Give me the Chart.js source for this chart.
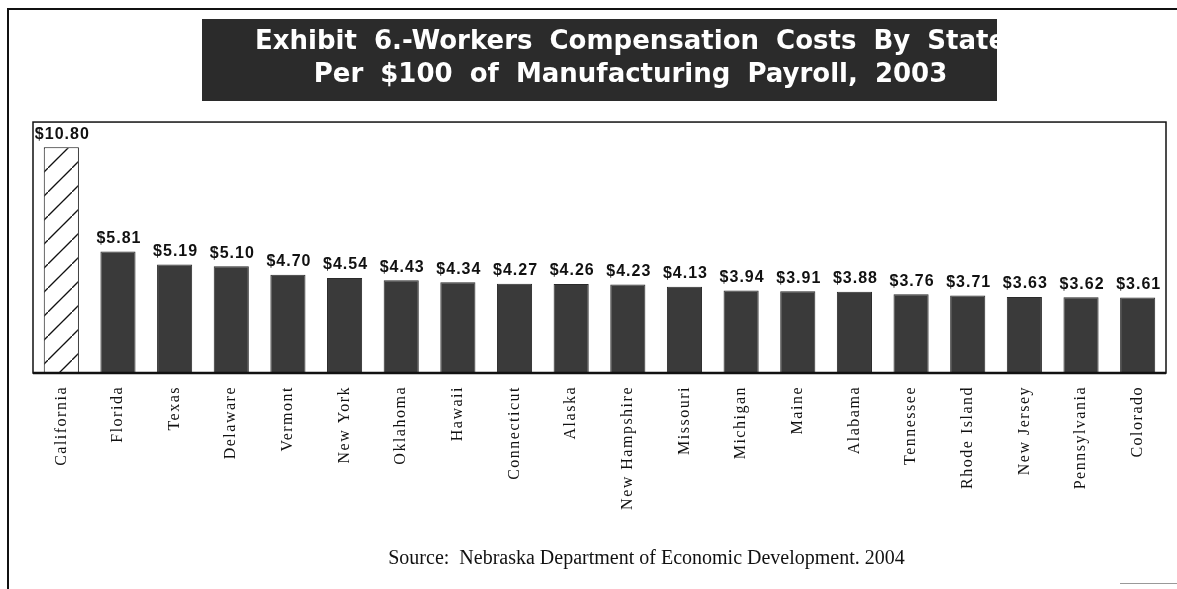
<!DOCTYPE html>
<html>
<head>
<meta charset="utf-8">
<title>Workers Compensation Costs By State, 2003</title>
<script src="https://cdn.jsdelivr.net/npm/chart.js@4.4.1/dist/chart.umd.min.js"></script>
<style>
    html, body { margin: 0; padding: 0; background: #fff; }
    #wrap { width: 1177px; height: 589px; }
</style>
</head>
<body>
<div id="wrap"><canvas id="chart" width="1177" height="589"></canvas></div>
<script>
(function () {
    'use strict';

    /* ------------------------------------------------------------------
       Dati
    ------------------------------------------------------------------ */
    var states = ['California', 'Florida', 'Texas', 'Delaware', 'Vermont', 'New York',
        'Oklahoma', 'Hawaii', 'Connecticut', 'Alaska', 'New Hampshire', 'Missouri',
        'Michigan', 'Maine', 'Alabama', 'Tennessee', 'Rhode Island', 'New Jersey',
        'Pennsylvania', 'Colorado'];
    var costs = [10.80, 5.81, 5.19, 5.10, 4.70, 4.54, 4.43, 4.34, 4.27, 4.26,
        4.23, 4.13, 3.94, 3.91, 3.88, 3.76, 3.71, 3.63, 3.62, 3.61];
    var titleLines = ['Exhibit 6.-Workers Compensation Costs By State',
        'Per $100 of Manufacturing Payroll, 2003'];
    var sourceText = 'Source:  Nebraska Department of Economic Development. 2004';
    var yMax = 12;

    var INK = '#111';
    var BAR_DARK = '#3a3a3a';

    // tratteggio per la barra California
    function hatchPattern() {
        var c = document.createElement('canvas');
        c.width = 24; c.height = 24;
        var g = c.getContext('2d');
        g.fillStyle = '#fff';
        g.fillRect(0, 0, 24, 24);
        g.strokeStyle = INK;
        g.lineWidth = 1.3;
        g.beginPath();
        g.moveTo(-2, 26); g.lineTo(26, -2);
        g.stroke();
        return g.createPattern(c, 'repeat');
    }
    var hatch = hatchPattern();

    /* ------------------------------------------------------------------
       Plugin: cornice, box titolo, etichette valori
    ------------------------------------------------------------------ */
    var paperPlugin = {
        id: 'paper',
        afterLayout: function (chart) {
            var t = chart.titleBlock;
            if (t) {
                t.left += 31; t.right += 31;
                // parole del titolo più distanziate
                if (!t._spaced) {
                    var origDraw = t.draw;
                    t.draw = function () {
                        chart.ctx.wordSpacing = '8px';
                        origDraw.apply(this, arguments);
                        chart.ctx.wordSpacing = '0px';
                    };
                    t._spaced = true;
                }
            }
            chart.boxes.forEach(function (b) {
                if (b !== t && b.options && b.options.text === sourceText) {
                    b.left += 47; b.right += 47;
                }
            });
        },
        beforeDraw: function (chart) {
            var ctx = chart.ctx;
            ctx.save();
            ctx.fillStyle = '#fff';
            ctx.fillRect(0, 0, chart.width, chart.height);
            // cornice esterna
            ctx.strokeStyle = INK;
            ctx.lineWidth = 2;
            ctx.beginPath();
            ctx.moveTo(8, 589); ctx.lineTo(8, 9); ctx.lineTo(1177, 9);
            ctx.stroke();
            ctx.strokeStyle = '#999';
            ctx.lineWidth = 1;
            ctx.beginPath();
            ctx.moveTo(1120, 583.5); ctx.lineTo(1177, 583.5);
            ctx.stroke();
            // box titolo
            ctx.fillStyle = '#2b2b2b';
            ctx.fillRect(202, 19, 795, 82);
            ctx.restore();
        },
        afterDatasetsDraw: function (chart) {
            var ctx = chart.ctx;
            var a = chart.chartArea;
            ctx.save();
            ctx.strokeStyle = INK;
            ctx.lineWidth = 1.5;
            ctx.strokeRect(a.left, a.top, a.right - a.left, a.bottom - a.top);
            ctx.lineWidth = 2.5;
            ctx.beginPath();
            ctx.moveTo(a.left, a.bottom); ctx.lineTo(a.right, a.bottom);
            ctx.stroke();

            ctx.font = 'bold 16px "Liberation Sans", Arial, sans-serif';
            ctx.letterSpacing = '1px';
            ctx.fillStyle = INK;
            ctx.textAlign = 'center';
            ctx.textBaseline = 'bottom';
            var meta = chart.getDatasetMeta(0);
            meta.data.forEach(function (bar, i) {
                ctx.fillText('$' + costs[i].toFixed(2), bar.x + 1, bar.y - 5);
            });
            ctx.restore();
            // spaziatura per le etichette ruotate (disegnate dopo, ticks.z = 1)
            ctx.letterSpacing = '1.5px';
        },
        afterDraw: function (chart) {
            chart.ctx.letterSpacing = '0px';
        }
    };

    /* ------------------------------------------------------------------
       Chart.js
    ------------------------------------------------------------------ */
    new Chart(document.getElementById('chart').getContext('2d'), {
        type: 'bar',
        data: {
            labels: states,
            datasets: [{
                data: costs,
                backgroundColor: states.map(function (s, i) { return i === 0 ? hatch : BAR_DARK; }),
                borderColor: states.map(function (s, i) { return i === 0 ? INK : '#2a2a2a'; }),
                borderWidth: 1,
                barPercentage: 0.62,
                categoryPercentage: 1
            }]
        },
        options: {
            responsive: false,
            animation: false,
            events: [],
            layout: { padding: { top: 26, bottom: 19, left: 33, right: 11 } },
            plugins: {
                legend: { display: false },
                tooltip: { enabled: false },
                title: {
                    display: true,
                    text: titleLines,
                    color: '#fff',
                    font: { family: '"DejaVu Sans", Verdana, sans-serif', size: 26, weight: 'bold', lineHeight: 1.27 },
                    padding: { top: 0, bottom: 30 }
                },
                subtitle: {
                    display: true,
                    position: 'bottom',
                    text: sourceText,
                    color: INK,
                    font: { family: '"Liberation Serif", "Times New Roman", serif', size: 20, weight: 'normal', lineHeight: 1.15 },
                    padding: { top: 0, bottom: 0 }
                }
            },
            scales: {
                x: {
                    grid: { display: false, drawTicks: false },
                    border: { display: false },
                    afterFit: function (scale) { scale.height = 174; },
                    ticks: {
                        z: 1,
                        autoSkip: false,
                        minRotation: 90,
                        maxRotation: 90,
                        padding: 13,
                        color: INK,
                        font: { family: '"Liberation Serif", "Times New Roman", serif', size: 16 }
                    }
                },
                y: {
                    display: false,
                    min: 0,
                    max: yMax
                }
            }
        },
        plugins: [paperPlugin]
    });
})();
</script>
</body>
</html>
